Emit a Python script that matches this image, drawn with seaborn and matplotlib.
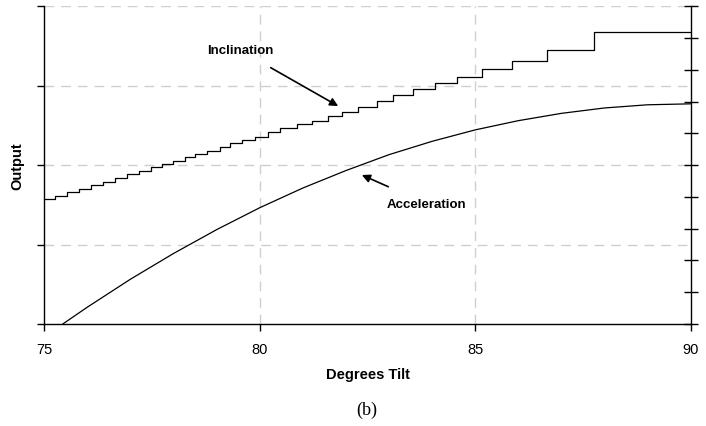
import numpy as np
import pandas as pd
import matplotlib
matplotlib.use('Agg')
import matplotlib.pyplot as plt
import seaborn as sns

# 데이터
# Inclination: 계단형 출력, 각 계단이 시작하는 각도와 그 계단의 높이
incl_deg = [75.00, 75.25, 75.53, 75.81, 76.08, 76.36, 76.64, 76.92, 77.20, 77.48,
            77.73, 77.99, 78.27, 78.50, 78.78, 79.08, 79.31, 79.59, 79.89, 80.19,
            80.47, 80.87, 81.22, 81.59, 81.91, 82.28, 82.73, 83.10, 83.56, 84.07,
            84.58, 85.16, 85.86, 86.67, 87.76, 90.00]
incl_out = [0.393, 0.404, 0.415, 0.426, 0.437, 0.448, 0.460, 0.471, 0.482, 0.493,
            0.504, 0.514, 0.525, 0.535, 0.546, 0.556, 0.569, 0.579, 0.590, 0.603,
            0.616, 0.630, 0.640, 0.656, 0.668, 0.684, 0.701, 0.721, 0.740, 0.759,
            0.777, 0.803, 0.829, 0.863, 0.918, 0.918]

# Acceleration: 매끄러운 곡선
accel_deg = [75.43, 76, 77, 78, 79, 80, 81, 82, 83, 84, 85, 86, 87, 88, 89, 90]
accel_out = [0.0, 0.053, 0.141, 0.222, 0.297, 0.366, 0.428, 0.483, 0.533, 0.575,
             0.611, 0.640, 0.663, 0.680, 0.690, 0.693]

x_ticks = [75, 80, 85, 90]

df_incl = pd.DataFrame({'deg': incl_deg, 'out': incl_out})
df_acc = pd.DataFrame({'deg': accel_deg, 'out': accel_out})

sns.set_style('white')
plt.rcParams['font.family'] = ['Liberation Sans', 'DejaVu Sans']
plt.rcParams['text.color'] = 'black'
plt.rcParams['axes.labelcolor'] = 'black'
plt.rcParams['xtick.color'] = 'black'
plt.rcParams['ytick.color'] = 'black'

fig = plt.figure(figsize=(7.06, 4.27), dpi=100)
ax = fig.add_axes([0.0627, 0.2389, 0.9156, 0.744])

sns.lineplot(data=df_incl, x='deg', y='out', ax=ax, color='black', linewidth=0.9,
             drawstyle='steps-post')
sns.lineplot(data=df_acc, x='deg', y='out', ax=ax, color='black', linewidth=0.9)

ax.set_xlim(75, 90)
ax.set_ylim(0, 1)
ax.set_xticks(x_ticks)
ax.set_xticklabels([str(t) for t in x_ticks], fontsize=10.5)
ax.set_yticks([0, 0.25, 0.5, 0.75, 1.0])
ax.set_yticklabels([])
ax.tick_params(axis='both', direction='out', length=5, width=1, color='black',
               left=True, bottom=True, pad=8)

# 격자선 (회색 점선)
for gy in [0.25, 0.5, 0.75, 1.0]:
    ax.axhline(gy, color='#cfcfcf', linestyle=(0, (7, 5)), linewidth=1, zorder=0)
for gx in [80, 85]:
    ax.axvline(gx, color='#cfcfcf', linestyle=(0, (7, 5)), linewidth=1, zorder=0)

for s in ['left', 'bottom']:
    ax.spines[s].set_color('black')
    ax.spines[s].set_linewidth(1)
ax.spines['top'].set_visible(False)
ax.spines['right'].set_visible(False)

# 오른쪽 축 (눈금만)
ax2 = ax.twinx()
ax2.set_ylim(0, 1)
ax2.set_yticks(np.linspace(0, 1, 11))
ax2.set_yticklabels([])
ax2.tick_params(axis='y', direction='inout', length=10, width=1, color='black', right=True)
for s in ['top', 'left', 'bottom']:
    ax2.spines[s].set_visible(False)
ax2.spines['right'].set_color('black')
ax2.spines['right'].set_linewidth(1)

ax.set_xlabel('Degrees Tilt', fontsize=10.5, fontweight='bold', labelpad=8)
ax.set_ylabel('Output', fontsize=10.5, fontweight='bold')
ax.yaxis.set_label_coords(-0.03, 0.5)

# 주석
ax.annotate('Inclination', xy=(81.82, 0.686), xytext=(79.54, 0.862),
            fontsize=9.5, fontweight='bold', ha='center', va='center',
            arrowprops=dict(arrowstyle='-|>', color='black', lw=1.2,
                            shrinkA=12, shrinkB=0, mutation_scale=12))
ax.annotate('Acceleration', xy=(82.37, 0.469), xytext=(83.88, 0.378),
            fontsize=9.5, fontweight='bold', ha='center', va='center',
            arrowprops=dict(arrowstyle='-|>', color='black', lw=1.2,
                            shrinkA=14, shrinkB=0, mutation_scale=12))

fig.text(0.52, 0.04, '(b)', fontsize=13, family='Liberation Serif',
         ha='center', va='center')

fig.savefig('out.png', dpi=100)
